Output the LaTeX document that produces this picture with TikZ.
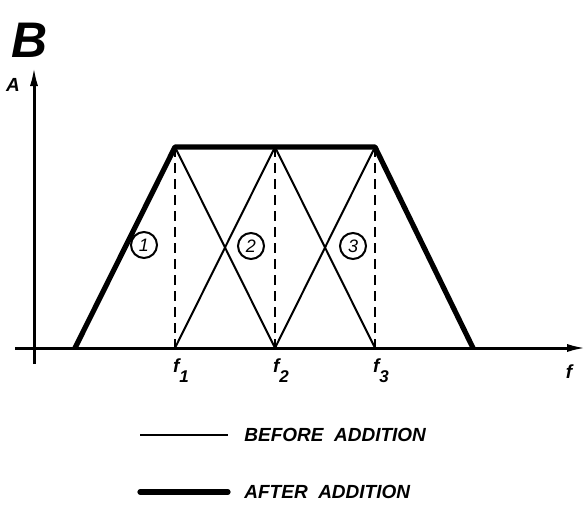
\documentclass[tikz,border=0pt]{standalone}
\usepackage{fontspec}
\newfontfamily\lettering{Liberation Sans}
\usetikzlibrary{positioning, arrows.meta, calc}

\newcommand{\lowsub}[1]{\raisebox{-5pt}{\fontsize{8.5}{9}\selectfont #1}}

\begin{document}
\begin{tikzpicture}[
    x=0.5pt, y=-0.5pt,
    >={Latex[length=10pt,width=4pt]},
    axis/.style={
        ->,
        line width=1.5pt
    },
    before/.style={
        line width=1pt
    },
    after/.style={
        line width=2.6pt,
        line join=round
    },
    guide/.style={
        line width=1.1pt,
        dash pattern=on 5pt off 3pt
    },
    label/.style={
        font=\lettering\bfseries\itshape\fontsize{9.5}{11}\selectfont,
        inner sep=0pt
    },
    region/.style={
        circle,
        draw,
        line width=1pt,
        minimum size=13pt,
        inner sep=0pt,
        font=\lettering\itshape\fontsize{9}{10}\selectfont
    }
]
    \useasboundingbox (0,0) rectangle (587,509);

    % Title
    \node[label, font=\lettering\bfseries\itshape\fontsize{25}{28}\selectfont] (title) at (30,40) {B};

    % Axes
    \coordinate (xstart) at (15,348);
    \coordinate (xend) at (587,348);
    \coordinate (ystart) at (34,364);
    \coordinate (yend) at (34,66);
    \draw[axis] (xstart) -- (xend);
    \draw[axis] (ystart) -- (yend);
    \node[label] (alabel) at (13,85) {A};
    \node[label] (flabel) at (569,372) {f};

    % Corner points
    \coordinate (p0) at (75,348);
    \coordinate (b1) at (175,348);
    \coordinate (b2) at (275,348);
    \coordinate (b3) at (375,348);
    \coordinate (p4) at (473,348);
    \coordinate (t1) at (175,147);
    \coordinate (t2) at (275,147);
    \coordinate (t3) at (375,147);

    % Single bands
    \draw[before] (p0) -- (t1) -- (b2);
    \draw[before] (b1) -- (t2) -- (b3);
    \draw[before] (b2) -- (t3) -- (p4);

    % Centre frequencies
    \foreach \i in {1,2,3} {
        \draw[guide] (t\i) -- (b\i);
        \node[label, anchor=north, xshift=3pt] (f\i) at ($(b\i)+(0,10)$) {f\lowsub{\i}};
    }

    % Sum
    \draw[after] (p0) -- (t1) -- (t3) -- (p4);

    % Band numbers
    \node[region] (r1) at (144,245) {1};
    \node[region] (r2) at (251,246) {2};
    \node[region] (r3) at (353,246) {3};

    % Legend
    \coordinate (l1a) at (140,435);
    \coordinate (l1b) at (228,435);
    \coordinate (l2a) at (140,492);
    \coordinate (l2b) at (228,492);
    \draw[before] (l1a) -- (l1b);
    \draw[after, line cap=round] (l2a) -- (l2b);
    \node[label, right=8pt of l1b] (beforetext) {BEFORE\ \ ADDITION};
    \node[label, right=8pt of l2b] (aftertext) {AFTER\ \ ADDITION};

\end{tikzpicture}
\end{document}
